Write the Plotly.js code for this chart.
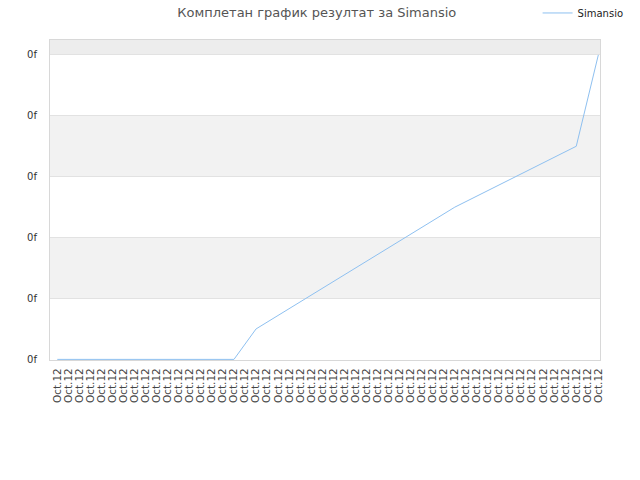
<!DOCTYPE html>
<html>
<head>
<meta charset="utf-8">
<script src="https://cdn.plot.ly/plotly-3.0.1.min.js"></script>
<style>
  html, body { margin: 0; padding: 0; background: #fff; }
  #plot { width: 640px; height: 480px; }
</style>
</head>
<body>
<div id="plot"></div>
<script>
// подписи оси X (все одинаковые на исходнике)
const dateLabels = new Array(50).fill('Oct.12');
// позиции точек (номер подписи) и значения серии
const pointIndex = [0, 1, 2, 3, 4, 5, 6, 7, 8, 9, 10, 11, 12, 13, 14, 15, 16, 18, 36, 47, 49];
const simansio   = [0, 0, 0, 0, 0, 0, 0, 0, 0, 0, 0, 0, 0, 0, 0, 0, 0, 1, 5, 7, 10];
const yTicks = [0, 2, 4, 6, 8, 10];
const yTickText = ['0f', '0f', '0f', '0f', '0f', '0f'];

// серые полосы между линиями сетки
let shapes = [];
for (let i = 1; i < yTicks.length - 1; i += 2) {
  shapes.push({
    type: 'rect', xref: 'paper', yref: 'y', layer: 'below',
    x0: 0, x1: 1, y0: yTicks[i], y1: yTicks[i + 1],
    fillcolor: '#f2f2f2', line: {width: 0}
  });
}
shapes.push({
  type: 'rect', xref: 'paper', yref: 'paper', layer: 'below',
  x0: 0, x1: 1, y0: 0.953, y1: 1,
  fillcolor: '#ededed', line: {width: 0}
});

let trace1 = {
  x: pointIndex,
  y: simansio,
  name: 'Simansio',
  mode: 'lines',
  type: 'scatter',
  line: {color: '#8ec0f0', width: 1}
};

let layout = {
  width: 640,
  height: 480,
  margin: {l: 50, r: 40, t: 40, b: 120, autoexpand: false},
  paper_bgcolor: '#fff',
  plot_bgcolor: '#fff',
  font: {family: 'DejaVu Sans', size: 10, color: '#444'},
  title: {
    text: 'Комплетан график резултат за Simansio',
    font: {family: 'DejaVu Sans', size: 13, color: '#555'},
    x: 0.495, xanchor: 'center', y: 0.975, yanchor: 'middle'
  },
  showlegend: true,
  legend: {
    xref: 'container', yref: 'container',
    x: 0.84, y: 0.973, xanchor: 'left', yanchor: 'middle',
    bgcolor: 'rgba(0,0,0,0)',
    font: {family: 'DejaVu Sans', size: 10, color: '#222'}
  },
  xaxis: {
    range: [-0.66, 49.15],
    tickmode: 'array',
    tickvals: dateLabels.map((d, i) => i),
    ticktext: dateLabels,
    tickangle: -90,
    showgrid: false,
    zeroline: false,
    showline: true, mirror: true, linecolor: '#d8d8d8', linewidth: 1,
    ticks: '',
    ticklabelstandoff: 3,
    tickfont: {size: 10.5, color: '#444'}
  },
  yaxis: {
    range: [-0.02, 10.49],
    tickmode: 'array',
    tickvals: yTicks,
    ticktext: yTickText,
    showgrid: true, gridcolor: '#e2e2e2', gridwidth: 1,
    zeroline: false,
    showline: true, mirror: true, linecolor: '#d8d8d8', linewidth: 1,
    ticks: '',
    ticklabelstandoff: 10,
    tickfont: {size: 10, color: '#333'}
  },
  shapes: shapes
};

Plotly.newPlot('plot', [trace1], layout, {displayModeBar: false, staticPlot: true});
</script>
</body>
</html>
